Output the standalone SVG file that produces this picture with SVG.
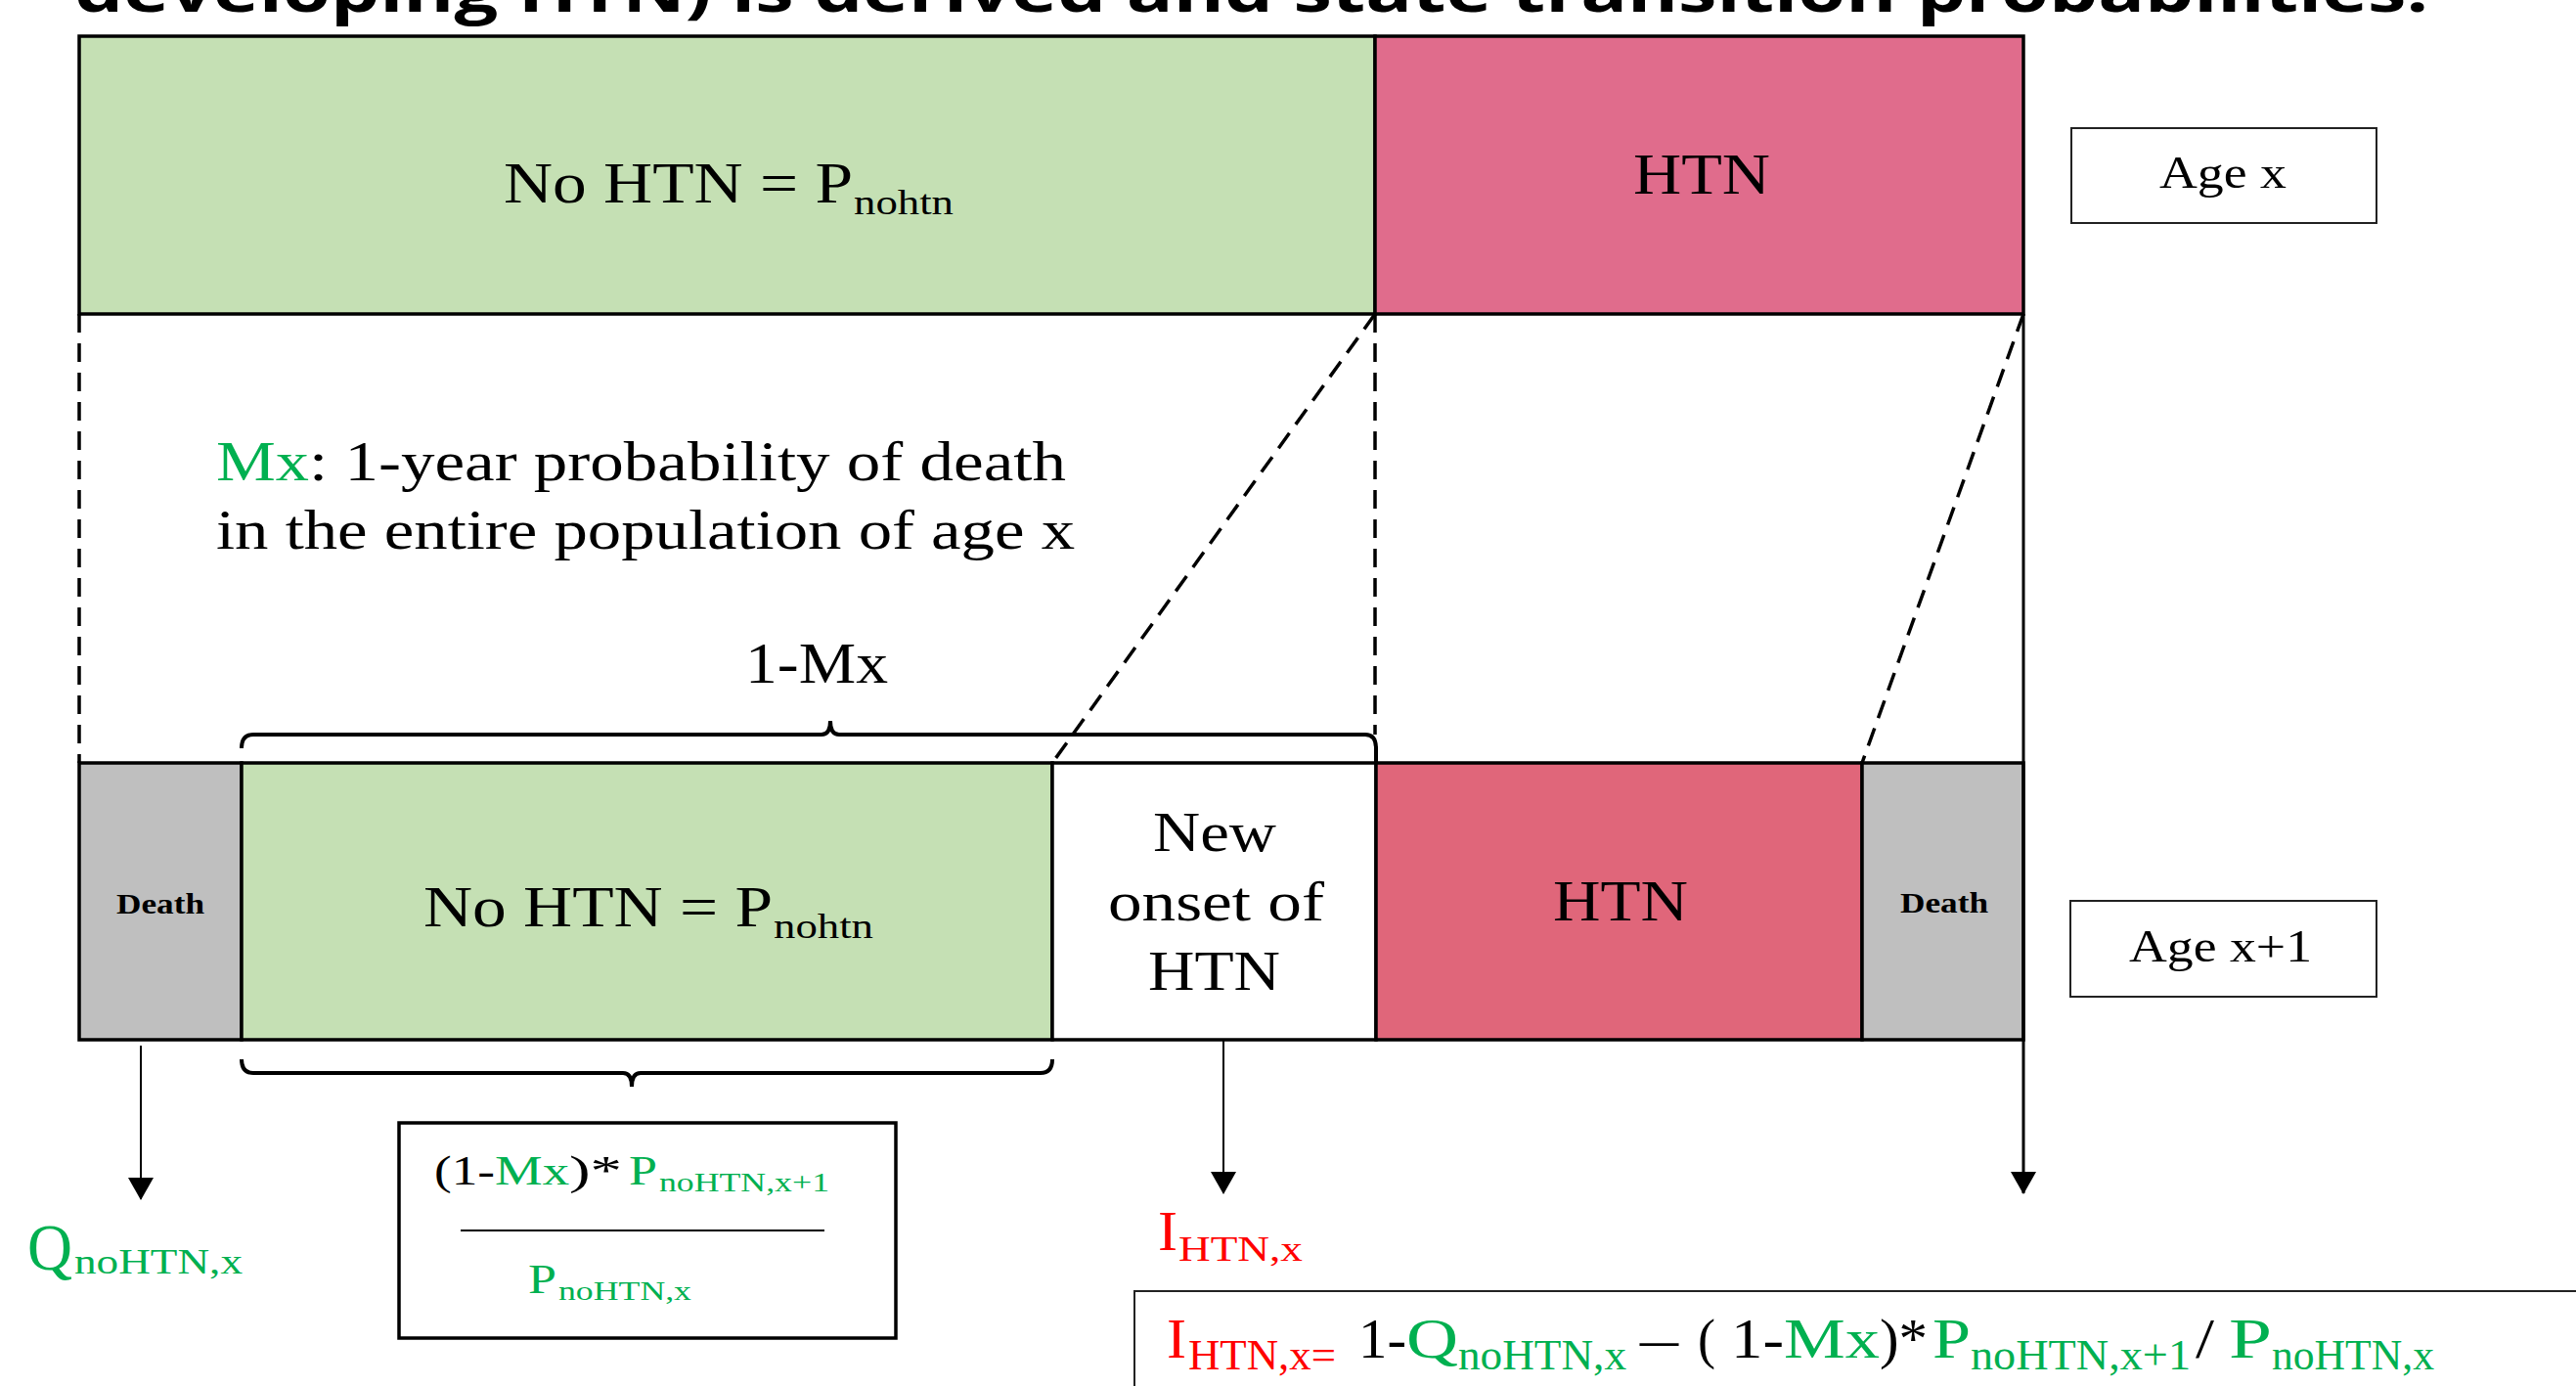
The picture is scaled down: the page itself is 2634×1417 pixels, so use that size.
<svg xmlns="http://www.w3.org/2000/svg" width="2634" height="1417" viewBox="0 0 2634 1417">
<style>
  .t{font-family:"Liberation Serif","Times New Roman",serif;fill:#000}
  .g{fill:#00B050}
  .r{fill:#FF0000}
  .b{font-weight:bold}
  .box{stroke:#000;stroke-width:3.5}
  .dash{fill:none;stroke:#000;stroke-width:3.5;stroke-dasharray:19 11}
  .br{fill:none;stroke:#000;stroke-width:4}
  .arr{fill:none;stroke:#000;stroke-width:2}
</style>
<defs>
  <marker id="ah" viewBox="0 0 23 26" refX="22" refY="13" markerWidth="23" markerHeight="26" markerUnits="userSpaceOnUse" orient="auto">
    <path d="M0,0 L23,13 L0,26 Z" fill="#000"/>
  </marker>
</defs>
<rect width="2634" height="1417" fill="#fff"/>

<g id="title">
  <text x="76" y="12" font-family="Open Sans, Liberation Sans, sans-serif" font-weight="bold" font-size="60" textLength="2407" lengthAdjust="spacingAndGlyphs">developing HTN) is derived and state transition probabilities.</text>
</g>

<g id="top-nohtn">
  <rect class="box" x="81" y="37" width="1325" height="284" fill="#C5E0B4"/>
  <text class="t" x="515" y="207" font-size="60" textLength="357" lengthAdjust="spacingAndGlyphs">No HTN = P</text>
  <text class="t" x="873" y="219" font-size="36" textLength="102" lengthAdjust="spacingAndGlyphs">nohtn</text>
</g>
<g id="top-htn">
  <rect class="box" x="1406" y="37" width="663" height="284" fill="#E06C8C"/>
  <text class="t" x="1670" y="198" font-size="60" textLength="140" lengthAdjust="spacingAndGlyphs">HTN</text>
</g>
<g id="age-x">
  <rect x="2118" y="131" width="312" height="97" fill="#fff" stroke="#222" stroke-width="2"/>
  <text class="t" x="2208" y="192" font-size="46" textLength="130" lengthAdjust="spacingAndGlyphs">Age x</text>
</g>

<g id="mx-note">
  <text class="t g" x="221" y="491" font-size="58" textLength="95" lengthAdjust="spacingAndGlyphs">Mx</text>
  <text class="t" x="316" y="491" font-size="58" textLength="774" lengthAdjust="spacingAndGlyphs">: 1-year probability of death</text>
  <text class="t" x="221" y="561" font-size="58" textLength="878" lengthAdjust="spacingAndGlyphs">in the entire population of age x</text>
</g>
<g id="one-minus-mx">
  <text class="t" x="762" y="698" font-size="60" textLength="146" lengthAdjust="spacingAndGlyphs">1-Mx</text>
</g>

<g id="death-left">
  <rect class="box" x="81" y="780" width="166" height="283" fill="#BFBFBF"/>
  <text class="t b" x="119" y="934" font-size="30" textLength="90" lengthAdjust="spacingAndGlyphs">Death</text>
</g>
<g id="bottom-nohtn">
  <rect class="box" x="247" y="780" width="829" height="283" fill="#C5E0B4"/>
  <text class="t" x="433" y="947" font-size="60" textLength="357" lengthAdjust="spacingAndGlyphs">No HTN = P</text>
  <text class="t" x="791" y="959" font-size="36" textLength="102" lengthAdjust="spacingAndGlyphs">nohtn</text>
</g>
<g id="new-onset">
  <rect class="box" x="1076" y="780" width="331" height="283" fill="#fff"/>
  <text class="t" x="1179" y="870" font-size="58" textLength="126" lengthAdjust="spacingAndGlyphs">New</text>
  <text class="t" x="1133" y="941" font-size="58" textLength="221" lengthAdjust="spacingAndGlyphs">onset of</text>
  <text class="t" x="1174" y="1012" font-size="58" textLength="135" lengthAdjust="spacingAndGlyphs">HTN</text>
</g>
<g id="bottom-htn">
  <rect class="box" x="1407" y="780" width="497" height="283" fill="#E0667A"/>
  <text class="t" x="1588" y="941" font-size="60" textLength="138" lengthAdjust="spacingAndGlyphs">HTN</text>
</g>
<g id="death-right">
  <rect class="box" x="1904" y="780" width="165" height="283" fill="#BFBFBF"/>
  <text class="t b" x="1943" y="933" font-size="30" textLength="90" lengthAdjust="spacingAndGlyphs">Death</text>
</g>
<g id="age-x1">
  <rect x="2117" y="921" width="313" height="98" fill="#fff" stroke="#222" stroke-width="2"/>
  <text class="t" x="2177" y="983" font-size="47" textLength="187" lengthAdjust="spacingAndGlyphs">Age x+1</text>
</g>

<g id="q-label">
  <text class="t g" x="28" y="1298" font-size="68" textLength="46" lengthAdjust="spacingAndGlyphs">Q</text>
  <text class="t g" x="76" y="1302" font-size="36" textLength="172" lengthAdjust="spacingAndGlyphs">noHTN,x</text>
</g>

<g id="ratio-box">
  <rect x="408" y="1148" width="508" height="220" fill="#fff" stroke="#000" stroke-width="3.5"/>
  <text class="t" x="444" y="1211" font-size="42" textLength="62" lengthAdjust="spacingAndGlyphs">(1-</text>
  <text class="t g" x="506" y="1211" font-size="42" textLength="76" lengthAdjust="spacingAndGlyphs">Mx</text>
  <text class="t" x="582" y="1211" font-size="42" textLength="54" lengthAdjust="spacingAndGlyphs">)*</text>
  <text class="t g" x="643" y="1211" font-size="42" textLength="29" lengthAdjust="spacingAndGlyphs">P</text>
  <text class="t g" x="674" y="1218" font-size="27" textLength="174" lengthAdjust="spacingAndGlyphs">noHTN,x+1</text>
  <line x1="471" y1="1258" x2="843" y2="1258" stroke="#000" stroke-width="1.8"/>
  <text class="t g" x="540" y="1322" font-size="42" textLength="29" lengthAdjust="spacingAndGlyphs">P</text>
  <text class="t g" x="571" y="1329" font-size="27" textLength="136" lengthAdjust="spacingAndGlyphs">noHTN,x</text>
</g>

<g id="i-label">
  <text class="t r" x="1184" y="1278" font-size="57" textLength="20" lengthAdjust="spacingAndGlyphs">I</text>
  <text class="t r" x="1205" y="1289" font-size="36" textLength="127" lengthAdjust="spacingAndGlyphs">HTN,x</text>
</g>

<g id="formula-box">
  <rect x="1160" y="1320" width="1500" height="200" fill="#fff" stroke="#222" stroke-width="2"/>
  <text class="t r" x="1193" y="1388" font-size="56" textLength="20" lengthAdjust="spacingAndGlyphs">I</text>
  <text class="t r" x="1215" y="1400" font-size="44" textLength="151" lengthAdjust="spacingAndGlyphs">HTN,x=</text>
  <text class="t" x="1389" y="1388" font-size="56" textLength="49" lengthAdjust="spacingAndGlyphs">1-</text>
  <text class="t g" x="1438" y="1388" font-size="56" textLength="53" lengthAdjust="spacingAndGlyphs">Q</text>
  <text class="t g" x="1491" y="1400" font-size="44" textLength="172" lengthAdjust="spacingAndGlyphs">noHTN,x</text>
  <text class="t" x="1677" y="1388" font-size="56" textLength="39" lengthAdjust="spacingAndGlyphs">–</text>
  <text class="t" x="1736" y="1388" font-size="56" textLength="18" lengthAdjust="spacingAndGlyphs">(</text>
  <text class="t" x="1770" y="1388" font-size="56" textLength="54" lengthAdjust="spacingAndGlyphs">1-</text>
  <text class="t g" x="1824" y="1388" font-size="56" textLength="98" lengthAdjust="spacingAndGlyphs">Mx</text>
  <text class="t" x="1922" y="1388" font-size="56" textLength="49" lengthAdjust="spacingAndGlyphs">)*</text>
  <text class="t g" x="1976" y="1388" font-size="56" textLength="39" lengthAdjust="spacingAndGlyphs">P</text>
  <text class="t g" x="2015" y="1400" font-size="44" textLength="225" lengthAdjust="spacingAndGlyphs">noHTN,x+1</text>
  <text class="t" x="2245" y="1388" font-size="56" textLength="19" lengthAdjust="spacingAndGlyphs">/</text>
  <text class="t g" x="2279" y="1388" font-size="56" textLength="44" lengthAdjust="spacingAndGlyphs">P</text>
  <text class="t g" x="2323" y="1400" font-size="44" textLength="166" lengthAdjust="spacingAndGlyphs">noHTN,x</text>
</g>

<g id="connectors">
  <line class="dash" x1="81" y1="321" x2="81" y2="780"/>
  <line class="dash" x1="1406" y1="321" x2="1406" y2="751"/>
  <line class="dash" x1="1406" y1="321" x2="1076" y2="780"/>
  <line class="dash" x1="2069" y1="321" x2="1904" y2="780"/>
  <path class="br" d="M247,765 Q247,751 259,751 L840,751 Q849,751 849,737 Q849,751 858,751 L1396,751 Q1407,751 1407,765 L1407,780"/>
  <path class="br" d="M247,1083 Q247,1097 259,1097 L637,1097 Q646,1097 646,1111 Q646,1097 655,1097 L1064,1097 Q1076,1097 1076,1083"/>
  <line class="arr" x1="144" y1="1069" x2="144" y2="1226" marker-end="url(#ah)"/>
  <line class="arr" x1="1251" y1="1063" x2="1251" y2="1220" marker-end="url(#ah)"/>
  <line x1="2069" y1="321" x2="2069" y2="1220" stroke="#000" stroke-width="3" marker-end="url(#ah)"/>
</g>
</svg>
